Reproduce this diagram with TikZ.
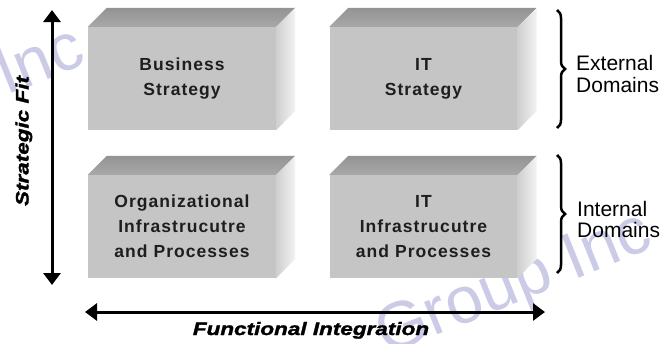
\documentclass[tikz,border=0pt]{standalone}
\usepackage{fontspec}
\setmainfont{Liberation Sans}
\newfontfamily\boxfont[LetterSpace=6]{Liberation Sans}
\newfontfamily\axisfont[FakeStretch=1.25,FakeBold=1.6]{Liberation Sans}
\usetikzlibrary{arrows.meta,decorations.pathreplacing}

\definecolor{faceC}{HTML}{C5C5C5}
\definecolor{topBack}{HTML}{939393}
\definecolor{topFront}{HTML}{A8A8A8}
\definecolor{sideL}{HTML}{CFCFCF}
\definecolor{sideR}{HTML}{F3F3F3}
\definecolor{wmark}{HTML}{CBCBE8}
\definecolor{ink}{HTML}{1E1E1E}

\tikzset{
  face/.style={fill=faceC, minimum width=188pt, minimum height=103pt,
    inner sep=0pt, align=center, text=ink,
    font=\boxfont\bfseries\fontsize{17.5}{25}\selectfont},
  wm/.style={text=wmark, inner sep=0pt, anchor=base west, rotate=22,
    font=\fontsize{66}{66}\selectfont},
  axis/.style={line width=3pt, {Triangle[length=12pt,width=17pt]}-{Triangle[length=12pt,width=17pt]}},
  axislabel/.style={inner sep=0pt, anchor=base,
    font=\axisfont\bfseries\itshape\fontsize{18}{18}\selectfont},
  domlabel/.style={inner sep=0pt, anchor=west, align=left,
    font=\fontsize{21}{21.5}\selectfont},
  bracket/.style={line width=2.5pt, decorate,
    decoration={brace, amplitude=8pt}},
}

\begin{document}
\begin{tikzpicture}[x=1pt, y=-1pt]
\useasboundingbox (0,0) rectangle (667,343);
\fill[white] (0,0) rectangle (667,343);

% faint background lettering
\begin{scope}
  \clip (0,0) rectangle (667,343);
  \node[wm] (wmA) at (6,96) {Inc};
  \node[wm] (wmB) at (386,356) {Group Inc};
\end{scope}

% front faces of the four blocks
\node[face] (bs)  at (182,78.5)   {Business\\Strategy};
\node[face] (its) at (423.5,78.5) {IT\\Strategy};
\node[face] (oi)  at (182,226.5)  {Organizational\\Infrastrucutre\\and Processes};
\node[face] (iti) at (423.5,226.5){IT\\Infrastrucutre\\and Processes};

% top and side faces give each block its depth
\foreach \n in {bs,its,oi,iti}{
  \shade[top color=topBack, bottom color=topFront]
    (\n.north west) -- ++(19,-19) -- ([shift={(19,-19)}]\n.north east)
    -- (\n.north east) -- cycle;
  \shade[left color=sideL, right color=sideR]
    (\n.north east) -- ++(19,-19) -- ++(0,103) -- (\n.south east) -- cycle;
}

% axes
\coordinate (vTop) at (52,10);
\coordinate (vBot) at (52,285);
\coordinate (hL) at (85,312);
\coordinate (hR) at (545,312);
\draw[axis] (vBot) -- (vTop);
\draw[axis] (hL) -- (hR);

\node[axislabel, rotate=90] (sfit) at (28.5,141) {Strategic Fit};
\node[axislabel] (fint) at (311,335) {Functional Integration};

% domain brackets
\coordinate (b1t) at (557,10);
\coordinate (b1b) at (557,128);
\coordinate (b2t) at (557,155);
\coordinate (b2b) at (557,273);
\draw[bracket] (b1t) -- (b1b);
\draw[bracket] (b2t) -- (b2b);

\node[domlabel] (ext) at (576,74)    {External\\Domains};
\node[domlabel] (int) at (577,219.5) {Internal\\Domains};
\end{tikzpicture}
\end{document}
